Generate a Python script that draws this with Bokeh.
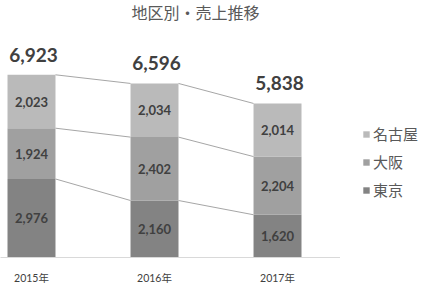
from bokeh.plotting import figure
from bokeh.layouts import row
from bokeh.models import ColumnDataSource, Range1d, FixedTicker, Legend, LegendItem
from bokeh.core.properties import value
from bokeh.embed import file_html
from bokeh.resources import INLINE

years = ["2015年", "2016年", "2017年"]
series = ["東京", "大阪", "名古屋"]
tokyo = [2976, 2160, 1620]
osaka = [1924, 2402, 2204]
nagoya = [2023, 2034, 2014]
colors = ["#838383", "#a0a0a0", "#bababa"]
title_text = "地区別・売上推移"

xs = list(range(len(years)))
vals = [tokyo, osaka, nagoya]
totals = [a + b + c for a, b, c in zip(tokyo, osaka, nagoya)]

src = ColumnDataSource(dict(x=xs, 東京=tokyo, 大阪=osaka, 名古屋=nagoya))

NUM_FONT = "Lato, 'Noto Sans CJK JP'"
JP_FONT = "'Noto Sans CJK JP'"

p = figure(width=340, height=287, x_range=Range1d(-0.252, 2.512), y_range=Range1d(0, 9739),
           output_backend="svg", toolbar_location=None, y_axis_location=None,
           min_border_left=0, min_border_right=0, min_border_top=0, min_border_bottom=30)
p.outline_line_color = None
p.xgrid.visible = False
p.ygrid.visible = False

bw = 0.39
rs = p.vbar_stack(series, x="x", width=bw, color=colors, source=src, line_color=None)

# connecting lines between segment tops
cum = [0, 0, 0]
tops = []
for v in vals:
    cum = [c + a for c, a in zip(cum, v)]
    tops.append(list(cum))
x0, y0, x1, y1 = [], [], [], []
for t in tops:
    for i in range(len(xs) - 1):
        x0.append(xs[i] + bw / 2); y0.append(t[i])
        x1.append(xs[i + 1] - bw / 2); y1.append(t[i + 1])
p.segment(x0=x0, y0=y0, x1=x1, y1=y1, line_color="#a6a6a6", line_width=1)

# segment labels
lx, ly, lt = [], [], []
base = [0, 0, 0]
for v in vals:
    for i in range(len(xs)):
        lx.append(xs[i]); ly.append(base[i] + v[i] / 2); lt.append(f"{v[i]:,}")
    base = [b + a for b, a in zip(base, v)]
p.text(x=lx, y=ly, text=lt, text_align="center", text_baseline="middle",
       text_font=value(NUM_FONT), text_font_style="bold", text_font_size="13px", text_color="#404040")

# totals
p.text(x=xs, y=totals, text=[f"{t:,}" for t in totals], text_align="center", text_baseline="bottom",
       y_offset=-13, x_offset=2,
       text_font=value(NUM_FONT), text_font_style="bold", text_font_size="19px", text_color="#404040")

# title
p.text(x=[1.333], y=[9320], text=[title_text], text_align="center", text_baseline="middle",
       text_font=value(JP_FONT), text_font_size="16px", text_color="#595959")

p.xaxis.ticker = FixedTicker(ticks=xs)
p.xaxis.major_label_overrides = {i: y for i, y in zip(xs, years)}
p.xaxis.major_tick_line_color = None
p.xaxis.minor_tick_line_color = None
p.xaxis.axis_line_color = "#d9d9d9"
p.xaxis.major_label_text_font = NUM_FONT
p.xaxis.major_label_text_font_size = "10.5px"
p.xaxis.major_label_text_color = "#404040"
p.xaxis.major_label_standoff = 8

# legend panel (zero-height key renderers only serve as legend swatches)
p2 = figure(width=90, height=287, x_range=Range1d(0, 1), y_range=Range1d(0, 1),
            output_backend="svg", toolbar_location=None, x_axis_location=None, y_axis_location=None,
            min_border_left=0, min_border_right=0, min_border_top=0, min_border_bottom=0)
p2.outline_line_color = None
p2.xgrid.visible = False
p2.ygrid.visible = False
keys = []
for k in range(len(series)):
    keys.append(p2.vbar(x=[0.5], top=[0], bottom=[0], width=0.1, fill_color=colors[k], line_color=None))

items = [LegendItem(label=series[k], renderers=[keys[k]]) for k in reversed(range(len(series)))]
legend = Legend(items=items, location=(22, 57), border_line_color=None, background_fill_alpha=0,
                glyph_width=8, glyph_height=8, label_height=20, spacing=7, padding=0, margin=0,
                label_standoff=3, label_text_font=JP_FONT, label_text_font_size="15px",
                label_text_color="#595959")
p2.add_layout(legend, "center")

layout = row(p, p2, spacing=0)
open("out.html", "w").write(file_html(layout, INLINE))
